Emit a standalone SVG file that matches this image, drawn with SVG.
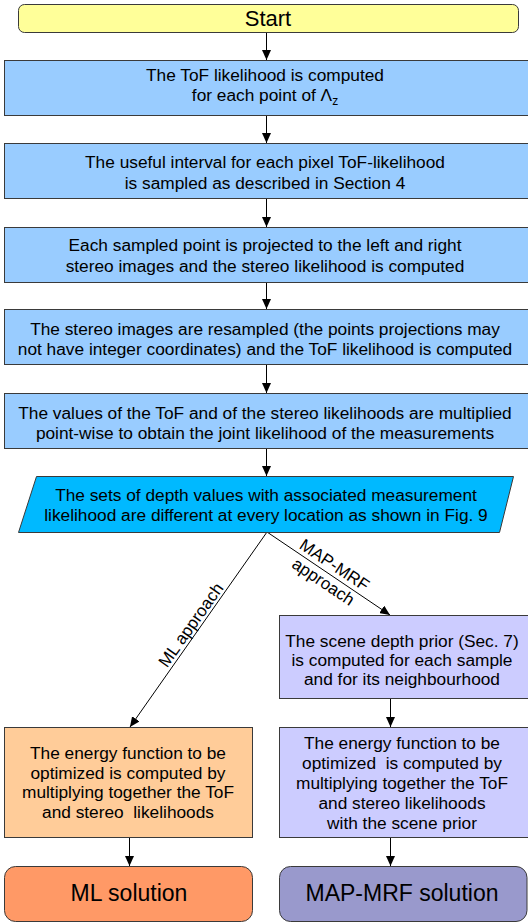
<svg xmlns="http://www.w3.org/2000/svg" width="528" height="924" viewBox="0 0 528 924">
<style>
  .box { stroke: #3a3a3a; stroke-width: 1; }
  .t { font-family: "Liberation Sans", Arial, sans-serif; font-size: 17.3px; fill: #000; text-anchor: middle; white-space: pre; }
  .big { font-size: 22px; }
  .sol { font-size: 23px; }
  .lbl { font-size: 17px; }
  .conn line { stroke: #000; stroke-width: 1; marker-end: url(#arr); }
</style>
<defs>
  <marker id="arr" markerWidth="10" markerHeight="9" refX="10" refY="4.5" orient="auto" markerUnits="userSpaceOnUse">
    <path d="M0,0 L10,4.5 L0,9 z" fill="#000"/>
  </marker>
</defs>
<rect width="528" height="924" fill="#fff"/>

<g class="conn" id="connectors">
  <line x1="266.5" y1="32" x2="266.5" y2="60"/>
  <line x1="266.5" y1="116" x2="266.5" y2="143"/>
  <line x1="266.5" y1="199" x2="266.5" y2="227"/>
  <line x1="266.5" y1="282" x2="266.5" y2="309"/>
  <line x1="266.5" y1="365" x2="266.5" y2="393"/>
  <line x1="266.5" y1="448" x2="266.5" y2="476"/>
  <line x1="267" y1="532" x2="130" y2="727"/>
  <line x1="267" y1="532" x2="390" y2="615"/>
  <line x1="390.5" y1="699" x2="390.5" y2="727"/>
  <line x1="129.5" y1="838" x2="129.5" y2="866"/>
  <line x1="390.5" y1="838" x2="390.5" y2="866"/>
  <g id="lbl-ml" transform="translate(198,630) rotate(-54.6)">
    <text class="t lbl" x="0" y="-3">ML approach</text>
  </g>
  <g id="lbl-map" transform="translate(328.5,574) rotate(33.7)">
    <text class="t lbl" x="0" y="-5">MAP-MRF</text>
    <text class="t lbl" x="0" y="15">approach</text>
  </g>
</g>

<g id="start">
  <rect class="box" x="18.5" y="4.5" width="500" height="28" rx="6" fill="#ffff99"/>
  <text class="t big" x="268" y="26">Start</text>
</g>

<g id="step1">
  <rect class="box" x="4.5" y="60.5" width="530" height="55" fill="#99ccff"/>
  <text class="t" x="265" y="81">The ToF likelihood is computed</text>
  <text class="t" x="265" y="101">for each point of Λ<tspan font-size="12" dy="4">z</tspan></text>
</g>

<g id="step2">
  <rect class="box" x="4.5" y="143.5" width="530" height="55" fill="#99ccff"/>
  <text class="t" x="265" y="168">The useful interval for each pixel ToF-likelihood</text>
  <text class="t" x="265" y="189">is sampled as described in Section 4</text>
</g>

<g id="step3">
  <rect class="box" x="4.5" y="227.5" width="530" height="55" fill="#99ccff"/>
  <text class="t" x="265" y="251">Each sampled point is projected to the left and right</text>
  <text class="t" x="265" y="272">stereo images and the stereo likelihood is computed</text>
</g>

<g id="step4">
  <rect class="box" x="4.5" y="309.5" width="530" height="55" fill="#99ccff"/>
  <text class="t" x="265" y="335">The stereo images are resampled (the points projections may</text>
  <text class="t" x="265" y="355">not have integer coordinates) and the ToF likelihood is computed</text>
</g>

<g id="step5">
  <rect class="box" x="4.5" y="393.5" width="530" height="55" fill="#99ccff"/>
  <text class="t" x="265" y="419">The values of the ToF and of the stereo likelihoods are multiplied</text>
  <text class="t" x="265" y="439">point-wise to obtain the joint likelihood of the measurements</text>
</g>

<g id="data">
  <polygon class="box" points="36.5,476.5 513.5,476.5 499.5,532.5 18.5,532.5" fill="#00b9ff"/>
  <text class="t" x="266" y="501">The sets of depth values with associated measurement</text>
  <text class="t" x="266" y="521">likelihood are different at every location as shown in Fig. 9</text>
</g>

<g id="prior">
  <rect class="box" x="279.5" y="615.5" width="255" height="83" fill="#ccccff"/>
  <text class="t" x="402" y="647">The scene depth prior (Sec. 7)</text>
  <text class="t" x="402" y="666">is computed for each sample</text>
  <text class="t" x="402" y="685">and for its neighbourhood</text>
</g>

<g id="energy-ml">
  <rect class="box" x="4.5" y="727.5" width="248" height="110" fill="#ffcc99"/>
  <text class="t" x="128" y="759">The energy function to be</text>
  <text class="t" x="128" y="779">optimized is computed by</text>
  <text class="t" x="128" y="798">multiplying together the ToF</text>
  <text class="t" x="128" y="818">and stereo  likelihoods</text>
</g>

<g id="energy-map">
  <rect class="box" x="279.5" y="727.5" width="255" height="110" fill="#ccccff"/>
  <text class="t" x="402" y="749">The energy function to be</text>
  <text class="t" x="402" y="769">optimized  is computed by</text>
  <text class="t" x="402" y="789">multiplying together the ToF</text>
  <text class="t" x="402" y="809">and stereo likelihoods</text>
  <text class="t" x="402" y="829">with the scene prior</text>
</g>

<g id="ml-solution">
  <rect class="box" x="4.5" y="866.5" width="248" height="55" rx="11" fill="#ff9966"/>
  <text class="t sol" x="129" y="901">ML solution</text>
</g>

<g id="map-solution">
  <rect class="box" x="279.5" y="866.5" width="247.5" height="55" rx="11" fill="#9999cc"/>
  <text class="t sol" x="402" y="901">MAP-MRF solution</text>
</g>
</svg>
